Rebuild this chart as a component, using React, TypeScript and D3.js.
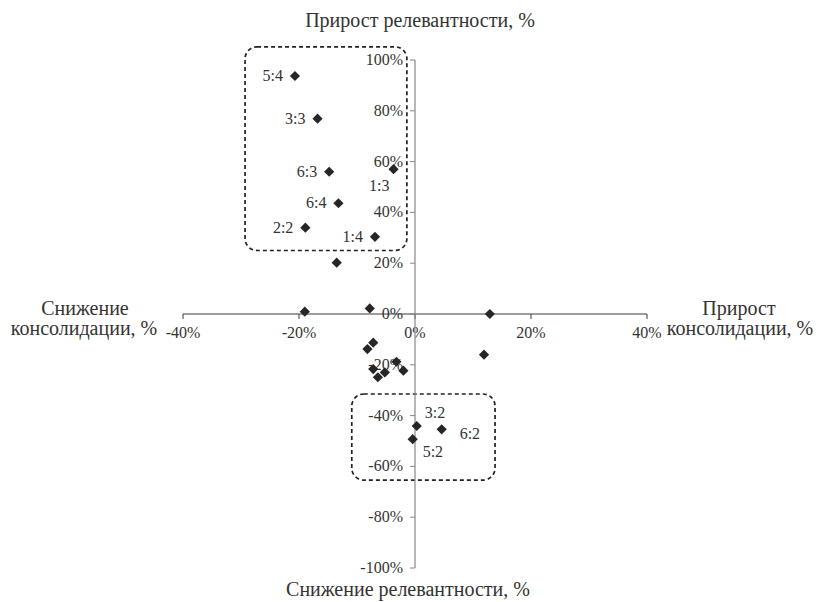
import React from "react";
import * as d3 from "d3";

const pointsX = [-20.7, -16.8, -14.8, -3.7, -13.2, -18.9, -6.9, -13.5, -19.0, -7.8, 12.9, 11.9, -7.2, -8.2, -3.2, -2.0, -7.2, -5.2, -6.4, 0.3, 4.6, -0.4];
const pointsY = [93.7, 76.9, 56.0, 57.0, 43.6, 34.0, 30.4, 20.2, 0.9, 2.2, 0.0, -16.0, -11.3, -13.8, -18.8, -22.3, -21.7, -23.0, -24.9, -44.1, -45.4, -49.3];
const pointLabels = ["5:4", "3:3", "6:3", "1:3", "6:4", "2:2", "1:4", "", "", "", "", "", "", "", "", "", "", "", "", "3:2", "6:2", "5:2"];
const labelPos = ["left", "left", "left", "belowLeft", "left", "left", "left", "", "", "", "", "", "", "", "", "", "", "", "", "aboveRight", "right", "belowRight"];
const xTicks = [-40, -20, 0, 20, 40];
const yTicks = [100, 80, 60, 40, 20, 0, -20, -40, -60, -80, -100];
const boxes = [
  { x0: -29.3, x1: -1.4, y0: 105.2, y1: 25.0 },
  { x0: -10.9, x1: 13.8, y0: -31.5, y1: -65.4 },
];

const W = 818;
const H = 602;
const FONT = "'Liberation Serif', 'Times New Roman', serif";

export default function App() {
  const x = d3.scaleLinear().domain([-40, 40]).range([183, 647]);
  const y = d3.scaleLinear().domain([-100, 100]).range([568, 60]);
  const diamond = d3.symbol().type(d3.symbolSquare).size(52)();

  const labelOffset = (pos: string) => {
    switch (pos) {
      case "left": return { dx: -12, dy: 5, anchor: "end" };
      case "belowLeft": return { dx: -4, dy: 22, anchor: "end" };
      case "aboveRight": return { dx: 8, dy: -8, anchor: "start" };
      case "right": return { dx: 18, dy: 10, anchor: "start" };
      case "belowRight": return { dx: 10, dy: 18, anchor: "start" };
      default: return { dx: 0, dy: 0, anchor: "start" };
    }
  };

  return (
    <svg width={W} height={H} style={{ position: "absolute", left: 0, top: 0, background: "#fff" }} fontFamily={FONT}>
      <rect width={W} height={H} fill="#fff" />
      {boxes.map((b, i) => (
        <rect key={i} x={x(b.x0)} y={y(b.y0)} width={x(b.x1) - x(b.x0)} height={y(b.y1) - y(b.y0)}
          rx={12} ry={12} fill="none" stroke="#222" strokeWidth={1.7} strokeDasharray="4,3" />
      ))}
      <line x1={x(-40)} x2={x(40)} y1={y(0)} y2={y(0)} stroke="#3a3a3a" strokeWidth={1} />
      {xTicks.map((t) => (
        <g key={t}>
          <line x1={x(t)} x2={x(t)} y1={y(0)} y2={y(0) + 5} stroke="#3a3a3a" />
          <text x={x(t)} y={y(0) + 24} textAnchor="middle" fontSize={16} fill="#333">{`${t}%`}</text>
        </g>
      ))}
      <line x1={x(0)} x2={x(0)} y1={y(100)} y2={y(-100)} stroke="#888" strokeWidth={1.2} />
      {yTicks.map((t) => (
        <g key={t}>
          <line x1={x(0) - 5} x2={x(0)} y1={y(t)} y2={y(t)} stroke="#888" />
          <text x={x(0) - 12} y={y(t) + 5} textAnchor="end" fontSize={16} fill="#333">{`${t}%`}</text>
        </g>
      ))}
      {pointsX.map((px, i) => (
        <path key={i} d={diamond} transform={`translate(${x(px)},${y(pointsY[i])}) rotate(45)`} fill="#262626" />
      ))}
      {pointLabels.map((l, i) => {
        if (!l) return null;
        const o = labelOffset(labelPos[i]);
        return (
          <text key={"l" + i} x={x(pointsX[i]) + o.dx} y={y(pointsY[i]) + o.dy} textAnchor={o.anchor as any} fontSize={16} fill="#333">{l}</text>
        );
      })}
      <text x={420} y={27} textAnchor="middle" fontSize={20} fill="#333">Прирост релевантности, %</text>
      <text x={408} y={596} textAnchor="middle" fontSize={20} fill="#333">Снижение релевантности, %</text>
      <text x={85} y={315} textAnchor="middle" fontSize={20} fill="#333">Снижение</text>
      <text x={84} y={335} textAnchor="middle" fontSize={20} fill="#333">консолидации, %</text>
      <text x={739} y={315} textAnchor="middle" fontSize={20} fill="#333">Прирост</text>
      <text x={740} y={335} textAnchor="middle" fontSize={20} fill="#333">консолидации, %</text>
    </svg>
  );
}
